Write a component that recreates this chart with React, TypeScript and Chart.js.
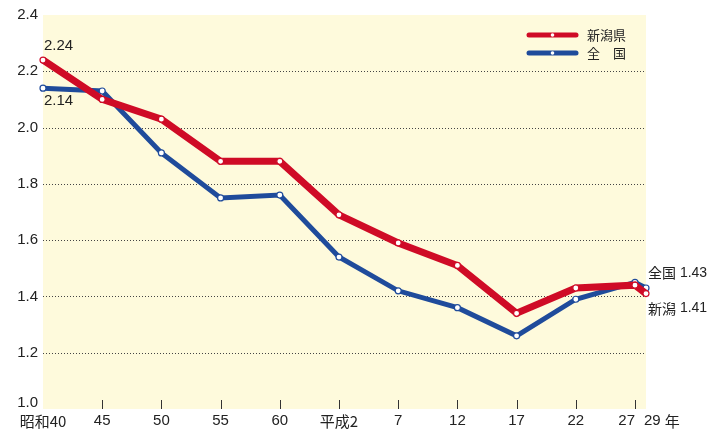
import React, { useEffect, useRef } from "react";
import { Chart, registerables } from "chart.js";

Chart.register(...registerables);

// x positions (year) of each survey point; the last (H29) is squeezed next to H27 as in the original
const xValues = [1965, 1970, 1975, 1980, 1985, 1990, 1995, 2000, 2005, 2010, 2015, 2015.93];
const xLabels = ["昭和40", "45", "50", "55", "60", "平成2", "7", "12", "17", "22", "27", "29 年"];
const niigata = [2.24, 2.1, 2.03, 1.88, 1.88, 1.69, 1.59, 1.51, 1.34, 1.43, 1.44, 1.41];
const zenkoku = [2.14, 2.13, 1.91, 1.75, 1.76, 1.54, 1.42, 1.36, 1.26, 1.39, 1.45, 1.43];
const yTicks = [1.0, 1.2, 1.4, 1.6, 1.8, 2.0, 2.2, 2.4];

const RED = "#CF0B26";
const BLUE = "#1F4B9B";
const BG = "#FEFADC";
const LATIN = "'Liberation Sans', Arial, 'Noto Sans CJK JP', sans-serif";
const CJK = "'Noto Sans CJK JP', 'Liberation Sans', sans-serif";

const decorPlugin = {
  id: "decor",
  beforeDraw(chart: any) {
    const { ctx, chartArea: a } = chart;
    ctx.save();
    ctx.fillStyle = BG;
    ctx.fillRect(a.left, a.top, a.right - a.left, a.bottom - a.top);
    ctx.restore();
  },
  beforeDatasetsDraw(chart: any) {
    const { ctx, chartArea: a, scales } = chart;
    ctx.save();
    ctx.strokeStyle = "#444";
    ctx.lineWidth = 1;
    ctx.setLineDash([1, 2]);
    yTicks.forEach((v) => {
      if (v <= 1.0 || v >= 2.4) return;
      const y = Math.round(scales.y.getPixelForValue(v)) + 0.5;
      ctx.beginPath();
      ctx.moveTo(a.left, y);
      ctx.lineTo(a.right, y);
      ctx.stroke();
    });
    ctx.setLineDash([]);
    ctx.strokeStyle = "#333";
    xValues.forEach((v, i) => {
      if (i === 0 || i === xValues.length - 1) return;
      const x = Math.round(scales.x.getPixelForValue(v)) + 0.5;
      ctx.beginPath();
      ctx.moveTo(x, a.bottom - 9);
      ctx.lineTo(x, a.bottom);
      ctx.stroke();
    });
    ctx.restore();
  },
  afterDraw(chart: any) {
    const { ctx, chartArea: a, scales } = chart;
    ctx.save();
    ctx.fillStyle = "#222";
    ctx.textBaseline = "middle";
    // y labels
    ctx.font = `15px ${LATIN}`;
    ctx.textAlign = "right";
    yTicks.forEach((v, i) => {
      const y = scales.y.getPixelForValue(v) + (i === 0 ? -6 : 0);
      ctx.fillText(v.toFixed(1), a.left - 5, y);
    });
    // x labels
    xLabels.forEach((lab, i) => {
      const x = scales.x.getPixelForValue(xValues[i]);
      const hasCjk = /[^\x00-\x7F]/.test(lab);
      ctx.font = `15px ${hasCjk ? CJK : LATIN}`;
      if (i === xLabels.length - 2) {
        ctx.textAlign = "right";
        ctx.fillText(lab, x, a.bottom + 12);
      } else if (i === xLabels.length - 1) {
        ctx.textAlign = "left";
        ctx.font = `15px ${LATIN}`;
        ctx.fillText("29", x - 2, a.bottom + 12);
        const w = ctx.measureText("29 ").width;
        ctx.font = `15px ${CJK}`;
        ctx.fillText("年", x - 2 + w, a.bottom + 12);
      } else {
        ctx.textAlign = "center";
        ctx.fillText(lab, x, a.bottom + 12);
      }
    });
    // value labels
    ctx.font = `15px ${LATIN}`;
    ctx.textAlign = "left";
    const x0 = scales.x.getPixelForValue(xValues[0]);
    ctx.fillText(niigata[0].toFixed(2), x0 + 1, scales.y.getPixelForValue(niigata[0]) - 14);
    ctx.fillText(zenkoku[0].toFixed(2), x0 + 1, scales.y.getPixelForValue(zenkoku[0]) + 13);
    const last = xValues.length - 1;
    const xl = scales.x.getPixelForValue(xValues[last]);
    const drawMixed = (cjk: string, num: string, x: number, y: number) => {
      ctx.font = `14px ${CJK}`;
      ctx.fillText(cjk, x, y);
      const w = ctx.measureText(cjk).width;
      ctx.font = `14px ${LATIN}`;
      ctx.fillText(" " + num, x + w, y);
    };
    drawMixed("全国", zenkoku[last].toFixed(2), xl + 2, scales.y.getPixelForValue(zenkoku[last]) - 15);
    drawMixed("新潟", niigata[last].toFixed(2), xl + 2, scales.y.getPixelForValue(niigata[last]) + 15);
    // legend
    const items = [
      { c: RED, t: "新潟県" },
      { c: BLUE, t: "全　国" },
    ];
    items.forEach((it, i) => {
      const y = a.top + 20 + i * 18;
      const lx1 = 529, lx2 = 576;
      ctx.strokeStyle = it.c;
      ctx.lineWidth = 5;
      ctx.lineCap = "round";
      ctx.beginPath();
      ctx.moveTo(lx1, y);
      ctx.lineTo(lx2, y);
      ctx.stroke();
      ctx.fillStyle = "#fff";
      ctx.beginPath();
      ctx.arc((lx1 + lx2) / 2, y, 1.8, 0, Math.PI * 2);
      ctx.fill();
      ctx.fillStyle = "#222";
      ctx.font = `13px ${CJK}`;
      ctx.textAlign = "left";
      ctx.fillText(it.t, 587, y);
    });
    ctx.restore();
  },
};

export default function App() {
  const ref = useRef<HTMLCanvasElement | null>(null);
  useEffect(() => {
    document.body.style.margin = "0";
    const canvas = ref.current!;
    const chart = new Chart(canvas, {
      type: "line",
      data: {
        datasets: [
          {
            label: "新潟県",
            data: xValues.map((x, i) => ({ x, y: niigata[i] })),
            borderColor: RED,
            borderWidth: 7,
            pointRadius: 3,
            pointBackgroundColor: "#fff",
            pointBorderColor: RED,
            pointBorderWidth: 1.2,
            tension: 0,
            clip: false,
          },
          {
            label: "全 国",
            data: xValues.map((x, i) => ({ x, y: zenkoku[i] })),
            borderColor: BLUE,
            borderWidth: 5,
            pointRadius: 3,
            pointBackgroundColor: "#fff",
            pointBorderColor: BLUE,
            pointBorderWidth: 1.2,
            tension: 0,
            clip: false,
          },
        ],
      },
      options: {
        animation: false,
        responsive: false,
        devicePixelRatio: 1,
        layout: { padding: { top: 15, right: 66, left: 0, bottom: 0 } },
        plugins: { legend: { display: false }, tooltip: { enabled: false } },
        scales: {
          x: {
            type: "linear",
            min: xValues[0],
            max: xValues[xValues.length - 1],
            ticks: { display: false },
            grid: { display: false },
            border: { display: false },
            afterFit: (s: any) => {
              s.height = 20;
            },
          },
          y: {
            min: 1.0,
            max: 2.4,
            afterBuildTicks: (s: any) => {
              s.ticks = yTicks.map((v) => ({ value: v }));
            },
            ticks: { display: false },
            grid: { display: false, drawTicks: false },
            border: { display: false },
            afterFit: (s: any) => {
              s.width = 43;
            },
          },
        },
      },
      plugins: [decorPlugin],
    } as any);
    return () => chart.destroy();
  }, []);
  return (
    <div style={{ position: "absolute", left: 0, top: 0, width: 712, height: 429 }}>
      <canvas ref={ref} width={712} height={429} style={{ width: 712, height: 429 }} />
    </div>
  );
}
